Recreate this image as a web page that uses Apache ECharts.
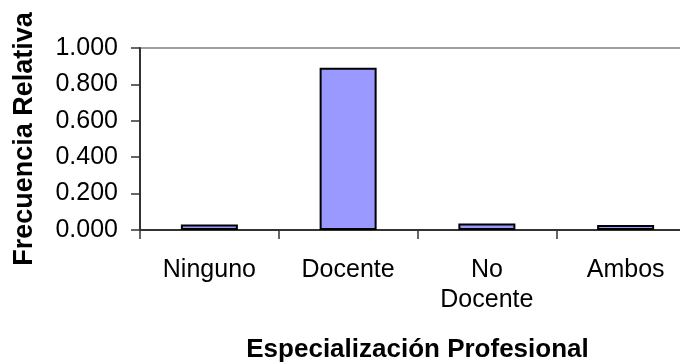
<!DOCTYPE html>
<html>
<head>
<meta charset="utf-8">
<script src="https://cdn.jsdelivr.net/npm/echarts@6/dist/echarts.min.js"></script>
<style>
  html, body { margin: 0; padding: 0; background: #ffffff; }
  #chart { width: 680px; height: 363px; }
</style>
</head>
<body>
<div id="chart"></div>
<script>
// Categorías de especialización profesional
const categories = ['Ninguno', 'Docente', 'No\nDocente', 'Ambos'];
// Frecuencia relativa de cada categoría
const frecuencias = [0.030, 0.892, 0.036, 0.027];
// Marcas del eje vertical
const yMin = 0;
const yMax = 1;
const yStep = 0.2;

const FONT = '"Liberation Sans", Arial, sans-serif';

const chart = echarts.init(document.getElementById('chart'), null, { renderer: 'canvas' });

chart.setOption({
  animation: false,
  backgroundColor: '#ffffff',
  grid: {
    left: 140,
    top: 48,
    width: 555,
    height: 182,
    outerBoundsMode: 'none',
    containLabel: false,
    show: true,
    borderColor: '#a0a0a0',
    borderWidth: 2,
    backgroundColor: 'transparent'
  },
  xAxis: {
    type: 'category',
    data: categories,
    name: 'Especialización Profesional',
    nameLocation: 'middle',
    nameGap: 107,
    nameTextStyle: {
      fontFamily: FONT,
      fontSize: 26,
      fontWeight: 'bold',
      color: '#000000'
    },
    axisLine: { show: true, lineStyle: { color: '#333333', width: 2 } },
    axisTick: { show: true, alignWithLabel: false, length: 9, lineStyle: { color: '#333333', width: 1.5 } },
    axisLabel: {
      fontFamily: FONT,
      fontSize: 25,
      color: '#000000',
      lineHeight: 30,
      margin: 25
    },
    splitLine: { show: false }
  },
  yAxis: {
    type: 'value',
    min: yMin,
    max: yMax,
    interval: yStep,
    name: 'Frecuencia Relativa',
    nameLocation: 'middle',
    nameGap: 102,
    nameTextStyle: {
      fontFamily: FONT,
      fontSize: 27,
      fontWeight: 'bold',
      color: '#000000'
    },
    axisLine: { show: true, lineStyle: { color: '#333333', width: 2 } },
    axisTick: { show: true, length: 9, lineStyle: { color: '#333333', width: 1.5 } },
    axisLabel: {
      fontFamily: FONT,
      fontSize: 25,
      color: '#000000',
      margin: 22,
      formatter: (v) => v.toFixed(3)
    },
    splitLine: { show: false }
  },
  series: [{
    type: 'bar',
    data: frecuencias,
    barWidth: 57,
    itemStyle: {
      color: '#9999ff',
      borderColor: '#000000',
      borderWidth: 2
    }
  }]
});
</script>
</body>
</html>
